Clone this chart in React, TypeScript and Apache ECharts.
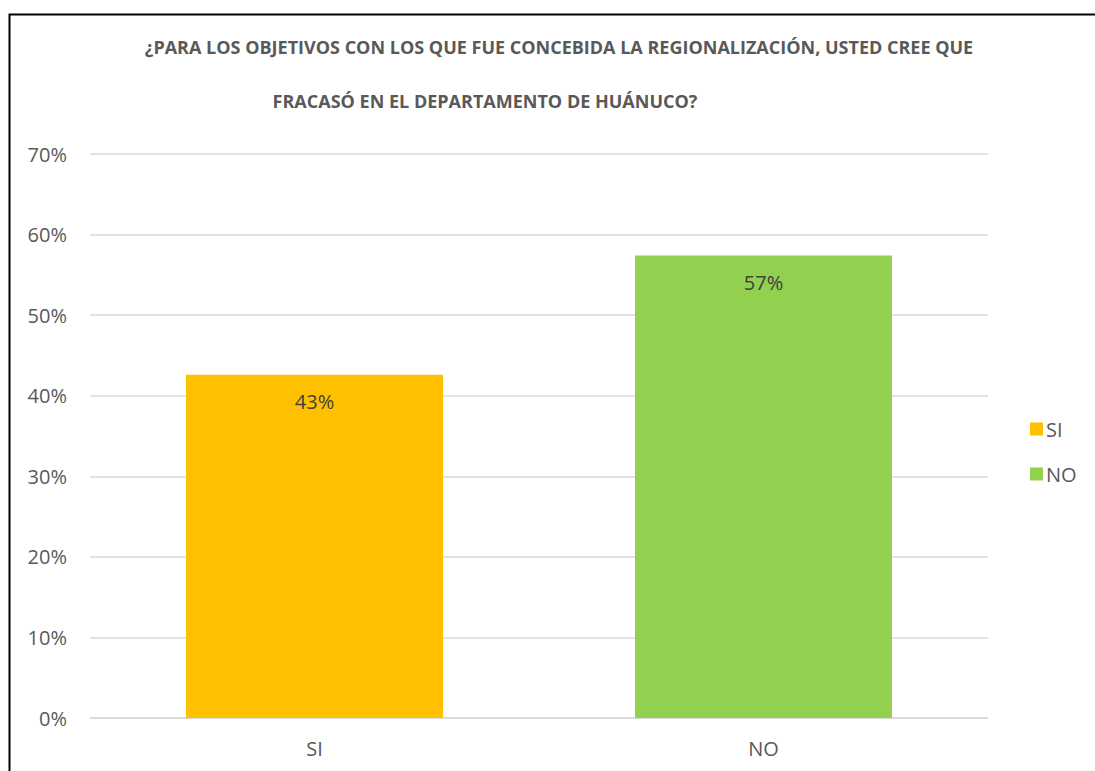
import React, { useEffect, useRef } from "react";
import * as echarts from "echarts";

const categories = ["SI", "NO"];
const seriesNames = ["SI", "NO"];
const siValues = [0.426, null];
const noValues = [null, 0.574];
const labelsText = ["43%", "57%"];
const colors = ["#FFC000", "#92D050"];
const titleLines = [
  "¿PARA LOS OBJETIVOS CON LOS QUE FUE CONCEBIDA LA REGIONALIZACIÓN, USTED CREE QUE",
  "FRACASÓ EN EL DEPARTAMENTO DE HUÁNUCO?",
];

export default function App() {
  const ref = useRef<HTMLDivElement>(null);
  useEffect(() => {
    if (!ref.current) return;
    const chart = echarts.init(ref.current, null, { renderer: "svg" });
    const font = "'Open Sans', 'Noto Sans', sans-serif";
    const mk = (name: string, data: any[], color: string) => ({
      name,
      type: "bar",
      data,
      barWidth: 257,
      barGap: "-100%",
      itemStyle: { color },
      label: {
        show: true,
        position: "insideTop",
        distance: 17,
        fontSize: 20,
        fontFamily: font,
        color: "#404040",
        formatter: (p: any) => labelsText[p.dataIndex],
      },
    });
    chart.setOption({
      animation: false,
      backgroundColor: "#ffffff",
      textStyle: { fontFamily: font },
      graphic: [
        {
          type: "rect",
          shape: { x: 9.5, y: 14.5, width: 1200, height: 900 },
          style: { fill: "none", stroke: "#000", lineWidth: 2 },
          silent: true,
        },
        {
          type: "text",
          x: 559,
          y: 47,
          style: {
            text: titleLines[0],
            fontSize: 18,
            fontWeight: "bold",
            fontFamily: font,
            fill: "#595959",
            align: "center",
            verticalAlign: "middle",
          },
        },
        {
          type: "text",
          x: 485,
          y: 101,
          style: {
            text: titleLines[1],
            fontSize: 18,
            fontWeight: "bold",
            fontFamily: font,
            fill: "#595959",
            align: "center",
            verticalAlign: "middle",
          },
        },
      ],
      legend: {
        orient: "vertical",
        left: 1030,
        top: 419,
        padding: 0,
        itemWidth: 13,
        itemHeight: 13,
        itemGap: 25,
        icon: "rect",
        data: seriesNames,
        textStyle: { fontSize: 20, color: "#595959", fontFamily: font, padding: [0, 0, 0, -2] },
      },
      grid: { left: 90, right: 107, top: 154, bottom: 53, containLabel: false },
      xAxis: {
        type: "category",
        data: categories,
        axisLine: { lineStyle: { color: "#d9d9d9", width: 1.5 } },
        axisTick: { show: false },
        axisLabel: { fontSize: 20, color: "#595959", margin: 20, fontFamily: font },
      },
      yAxis: {
        type: "value",
        min: 0,
        max: 0.7,
        interval: 0.1,
        axisLine: { show: false },
        axisTick: { show: false },
        splitLine: { lineStyle: { color: "#d9d9d9", width: 1.5 } },
        axisLabel: {
          fontSize: 20,
          color: "#595959",
          margin: 23,
          fontFamily: font,
          formatter: (v: number) => Math.round(v * 100) + "%",
        },
      },
      series: [mk(seriesNames[0], siValues, colors[0]), mk(seriesNames[1], noValues, colors[1])],
    });
    return () => chart.dispose();
  }, []);
  return (
    <div
      ref={ref}
      style={{ position: "absolute", left: 0, top: 0, width: 1095, height: 771 }}
    />
  );
}
